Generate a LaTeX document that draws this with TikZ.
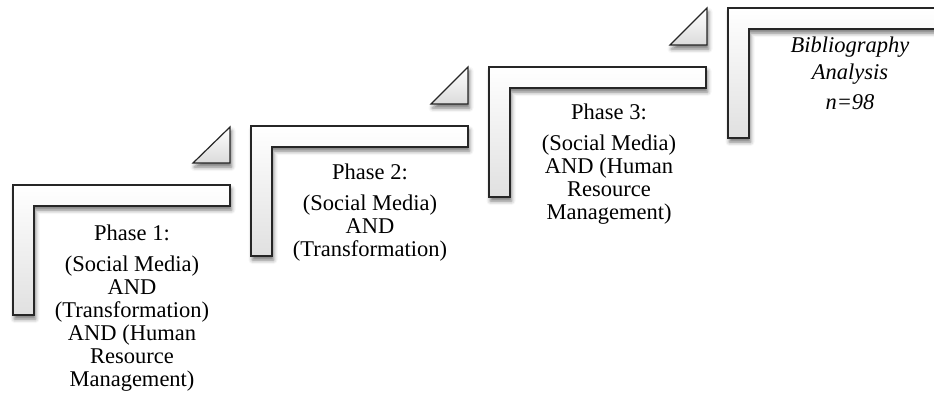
\documentclass[tikz,border=0pt]{standalone}
\usepackage{fontspec}
\setmainfont{Liberation Serif}
\usetikzlibrary{shadows.blur}
\tikzset{
  stairstep/.style={draw=black!85, line width=1.2pt, line join=miter,
    top color=white, bottom color=black!12,
    blur shadow={shadow xshift=1.5pt, shadow yshift=-4pt, shadow blur radius=4pt, shadow opacity=55}},
  wedge/.style={draw=black!85, line width=1.2pt, line join=miter,
    top color=white, bottom color=black!14,
    blur shadow={shadow xshift=1.5pt, shadow yshift=-4pt, shadow blur radius=4pt, shadow opacity=55}},
  lbl/.style={anchor=north, inner sep=0pt, align=center, font=\fontsize{22.5}{23}\selectfont}
}
\begin{document}
\begin{tikzpicture}[x=1pt,y=-1pt]
\useasboundingbox (0,0) rectangle (934,400);
% stair shapes
\path[stairstep] (13,315) -- (13,185) -- (230,185) -- (230,206) -- (34,206) -- (34,315) -- cycle;
\path[stairstep] (251,256) -- (251,126) -- (468,126) -- (468,147) -- (272,147) -- (272,256) -- cycle;
\path[stairstep] (489,197) -- (489,67) -- (706,67) -- (706,88) -- (510,88) -- (510,197) -- cycle;
\path[stairstep] (728,138) -- (728,8) -- (950,8) -- (950,29) -- (749,29) -- (749,138) -- cycle;
% triangles
\path[wedge] (193,163) -- (230,127) -- (230,163) -- cycle;
\path[wedge] (431,104) -- (468,67) -- (468,104) -- cycle;
\path[wedge] (670,45) -- (707,8) -- (707,45) -- cycle;
% labels
\node[lbl] (p1) at (132,225) {Phase 1:\\[8pt](Social Media)\\AND\\(Transformation)\\AND (Human\\Resource\\Management)};
\node[lbl] (p2) at (370,164) {Phase 2:\\[8pt](Social Media)\\AND\\(Transformation)};
\node[lbl] (p3) at (609,104) {Phase 3:\\[8pt](Social Media)\\AND (Human\\Resource\\Management)};
\node[lbl, font=\fontsize{22.5}{23}\selectfont\itshape] (p4) at (850,37) {Bibliography\\[4pt]Analysis\\[7pt]n=98};
\end{tikzpicture}
\end{document}
